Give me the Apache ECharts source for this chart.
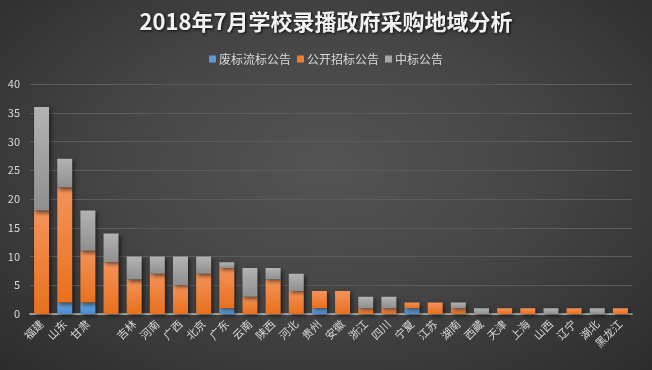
<!DOCTYPE html>
<html><head><meta charset="utf-8">
<script src="https://cdn.jsdelivr.net/npm/echarts@6/dist/echarts.min.js"></script>
<style>
html,body{margin:0;padding:0;}
body{width:652px;height:370px;background:radial-gradient(ellipse at 50% 45%, #545454 0%, #464646 45%, #2c2c2c 100%);}
#c{width:652px;height:370px;}
</style></head>
<body><div id="c"></div>
<script>
const categories = ['福建','山东','甘肃','','吉林','河南','广西','北京','广东','云南','陕西','河北','贵州','安徽','浙江','四川','宁夏','江苏','湖南','西藏','天津','上海','山西','辽宁','湖北','黑龙江'];
const feibiao   = [0,2,2,0,0,0,0,0,1,0,0,0,1,0,0,0,1,0,0,0,0,0,0,0,0,0];
const gongkai   = [18,20,9,9,6,7,5,7,7,3,6,4,3,4,1,1,1,2,1,0,1,1,0,1,0,1];
const zhongbiao = [18,5,7,5,4,3,5,3,1,5,2,3,0,0,2,2,0,0,1,1,0,0,1,0,1,0];
const yTicks = [0,5,10,15,20,25,30,35,40];

function grad(top, bottom){
  return {type:'linear',x:0,y:0,x2:0,y2:1,colorStops:[{offset:0,color:top},{offset:1,color:bottom}]};
}
const shadow = {shadowBlur:4, shadowColor:'rgba(0,0,0,0.55)', shadowOffsetX:2, shadowOffsetY:2};
const font = '"Noto Sans CJK SC", "Microsoft YaHei", sans-serif';

const chart = echarts.init(document.getElementById('c'), null, {renderer:'canvas'});
chart.setOption({
  backgroundColor:'transparent',
  animation:false,
  title:{
    text:'2018年7月学校录播政府采购地域分析',
    left:'center', top:6,
    textStyle:{color:'#f2f2f2', fontSize:22, fontWeight:'bold', fontFamily:font,
      textShadowColor:'rgba(0,0,0,0.8)', textShadowBlur:3, textShadowOffsetX:1, textShadowOffsetY:1}
  },
  legend:{
    top:48, left:'center', icon:'rect',
    itemWidth:7, itemHeight:7, itemGap:6,
    textStyle:{color:'#d9d9d9', fontSize:12, fontFamily:font, padding:[0,0,0,-2]},
    data:[
      {name:'废标流标公告', itemStyle:{color:'#5b9bd5'}},
      {name:'公开招标公告', itemStyle:{color:'#ed7d31'}},
      {name:'中标公告', itemStyle:{color:'#a5a5a5'}}
    ]
  },
  grid:{left:30, right:20, top:84, bottom:56, containLabel:false},
  xAxis:{
    type:'category', data:categories,
    axisLine:{lineStyle:{color:'#bfbfbf', width:1.5}},
    axisTick:{show:false},
    axisLabel:{rotate:45, interval:0, color:'#d9d9d9', fontSize:11, fontFamily:font, margin:8}
  },
  yAxis:{
    type:'value', min:yTicks[0], max:yTicks[yTicks.length-1], interval:5,
    axisLine:{show:false}, axisTick:{show:false},
    axisLabel:{color:'#d9d9d9', fontSize:11, fontFamily:font, margin:10},
    splitLine:{lineStyle:{color:'#5c5c5c', width:1}}
  },
  series:[
    {name:'废标流标公告', type:'bar', stack:'a', barWidth:15, data:feibiao,
      itemStyle:Object.assign({color:grad('#6fa8e0','#4a8bd0')}, shadow)},
    {name:'公开招标公告', type:'bar', stack:'a', barWidth:15, data:gongkai,
      itemStyle:Object.assign({color:grad('#f4935a','#e8701c')}, shadow)},
    {name:'中标公告', type:'bar', stack:'a', barWidth:15, data:zhongbiao,
      itemStyle:Object.assign({color:grad('#b3b3b3','#8f8f8f')}, shadow)}
  ]
});
</script></body></html>
